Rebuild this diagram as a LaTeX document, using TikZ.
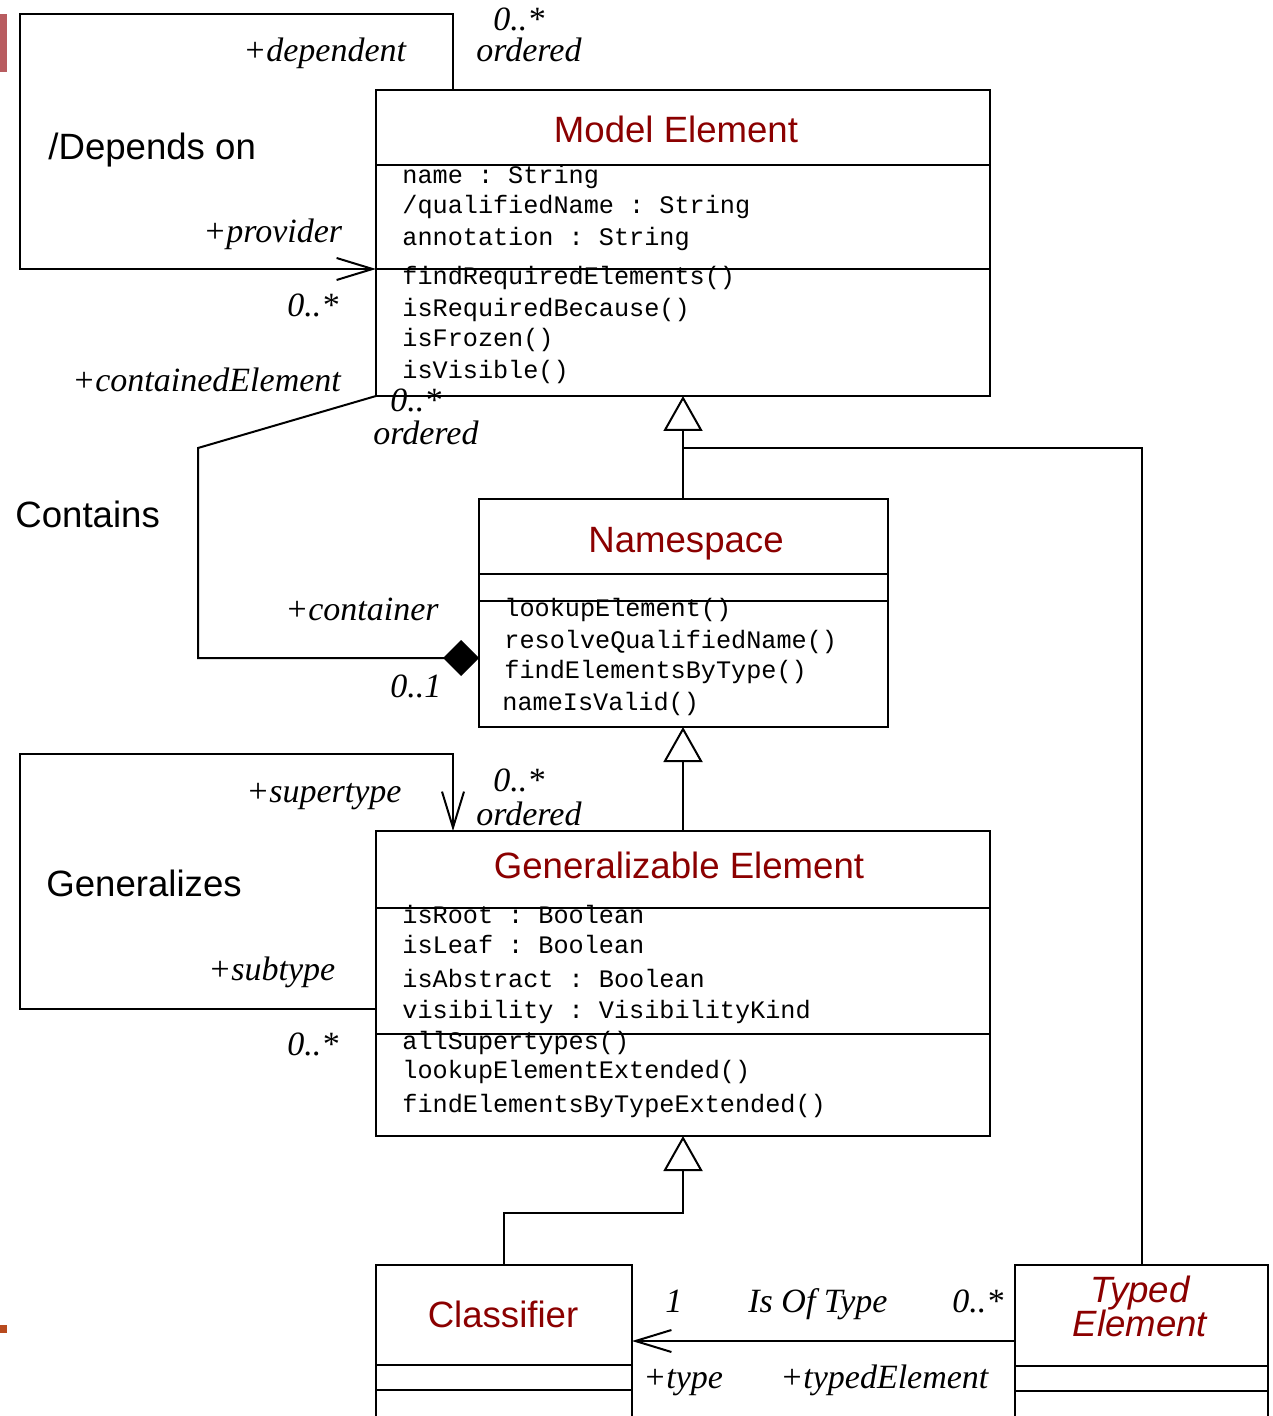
\documentclass[tikz,border=0pt]{standalone}
\usepackage{fontspec}
\setmainfont{Liberation Serif}
\setsansfont{Liberation Sans}
\setmonofont{Liberation Mono}
\usetikzlibrary{arrows.meta}

\definecolor{titlered}{RGB}{139,0,0}
\definecolor{barred}{RGB}{184,92,96}
\definecolor{barorange}{RGB}{184,74,30}

\tikzset{
  box/.style={draw, line width=1pt, anchor=north west, inner sep=0pt, outer sep=0pt},
  title/.style={font=\sffamily\fontsize{18.3}{18}\selectfont, text=titlered, inner sep=0pt, anchor=base},
  member/.style={font=\ttfamily\fontsize{12.6}{14}\selectfont, inner sep=0pt, anchor=base west},
  role/.style={font=\rmfamily\itshape\fontsize{17}{18}\selectfont, inner sep=0pt, anchor=base west},
  assocname/.style={font=\sffamily\fontsize{18.3}{18}\selectfont, inner sep=0pt, anchor=base west},
  link/.style={line width=1pt},
  navig/.style={link, -{Straight Barb[length=18pt,width=11pt,line width=1pt]}},
  gen/.style={link, -{Triangle[fill=white,length=17.5pt,width=19.5pt,line width=1pt]}},
  compo/.style={link, -{Diamond[fill=black,length=18pt,width=18pt]}},
  divider/.style={line width=1pt},
}

\begin{document}
\begin{tikzpicture}[x=0.5pt,y=-0.5pt]
\useasboundingbox (0,0) rectangle (1272,1416);
\fill[white] (0,0) rectangle (1272,1416);
\clip (0,0) rectangle (1272,1416);

% side marks
\fill[barred] (0,14) rectangle (7,72);
\fill[barorange] (0,1325) rectangle (7,1333);

% ---------- classes ----------
\node[box, minimum width=307pt, minimum height=153pt] (me) at (376,90) {};
\draw[divider] (376,165) -- (990,165);
\draw[divider] (376,269) -- (990,269);
\node[title] (me-t) at (676,143) {Model Element};
\node[member] (me-a1) at (402,184) {name : String};
\node[member] (me-a2) at (402,214) {/qualifiedName : String};
\node[member] (me-a3) at (402,246) {annotation : String};
\node[member] (me-o1) at (402,285) {findRequiredElements()};
\node[member] (me-o2) at (402,317) {isRequiredBecause()};
\node[member] (me-o3) at (402,347) {isFrozen()};
\node[member] (me-o4) at (402,379) {isVisible()};

\node[box, minimum width=204.5pt, minimum height=114pt] (ns) at (479,499) {};
\draw[divider] (479,574) -- (888,574);
\draw[divider] (479,601) -- (888,601);
\node[title] (ns-t) at (686,552) {Namespace};
\node[member] (ns-o1) at (504,616) {lookupElement()};
\node[member] (ns-o2) at (504,648) {resolveQualifiedName()};
\node[member] (ns-o3) at (504,678) {findElementsByType()};
\node[member] (ns-o4) at (502,710) {nameIsValid()};

\node[box, minimum width=307pt, minimum height=152.5pt] (ge) at (376,831) {};
\draw[divider] (376,908) -- (990,908);
\draw[divider] (376,1034) -- (990,1034);
\node[title] (ge-t) at (679,878) {Generalizable Element};
\node[member] (ge-a1) at (402,923) {isRoot : Boolean};
\node[member] (ge-a2) at (402,953) {isLeaf : Boolean};
\node[member] (ge-a3) at (402,987) {isAbstract : Boolean};
\node[member] (ge-a4) at (402,1018) {visibility : VisibilityKind};
\node[member] (ge-o1) at (402,1049) {allSupertypes()};
\node[member] (ge-o2) at (402,1078) {lookupElementExtended()};
\node[member] (ge-o3) at (402,1112) {findElementsByTypeExtended()};

\node[box, minimum width=128pt, minimum height=92.5pt] (cl) at (376,1265) {};
\draw[divider] (376,1365) -- (632,1365);
\draw[divider] (376,1390) -- (632,1390);
\node[title] (cl-t) at (503,1327) {Classifier};

\node[box, minimum width=126.5pt, minimum height=92.5pt] (te) at (1015,1265) {};
\draw[divider] (1015,1366) -- (1268,1366);
\draw[divider] (1015,1391) -- (1268,1391);
\node[title, font=\sffamily\itshape\fontsize{18.3}{18}\selectfont] (te-t1) at (1140,1302) {Typed};
\node[title, font=\sffamily\itshape\fontsize{18.3}{18}\selectfont] (te-t2) at (1140,1336) {Element};

% ---------- bend points ----------
\coordinate (d1) at (453,14);
\coordinate (d2) at (20,14);
\coordinate (d3) at (20,269);
\coordinate (c1) at (198,448);
\coordinate (c2) at (198,658);
\coordinate (g1) at (20,1009);
\coordinate (g2) at (20,754);
\coordinate (g3) at (453,754);
\coordinate (j1) at (683,448);
\coordinate (k1) at (683,1213);
\coordinate (t1) at (800,1341);

% ---------- associations ----------
\draw[navig] (me.north -| d1) -- (d1) -- (d2) -- (d3) -- (d3 -| me.west);
\draw[compo] (me.south west) -- (c1) -- (c2) -- (c2 -| ns.west);
\draw[navig] (g1 -| ge.west) -- (g1) -- (g2) -- (g3) -- (g3 |- ge.north);
\draw[navig] (te.west |- t1) -- (cl.east |- t1);

% ---------- generalizations ----------
\draw[gen] (ns.north -| j1) -- (j1 |- me.south);
\draw[link] (te.north) |- (j1);
\draw[gen] (ge.north -| j1) -- (j1 |- ns.south);
\draw[gen] (cl.north) |- (k1) -- (k1 |- ge.south);

% ---------- association names ----------
\node[assocname] (n-dep) at (48,160) {/Depends on};
\node[assocname] (n-con) at (15,527) {Contains};
\node[assocname] (n-gen) at (46,896) {Generalizes};

% ---------- role names and multiplicities ----------
\node[role] (r1) at (243,62) {+dependent};
\node[role] (m1) at (493,31) {0..*};
\node[role] (o1) at (476,62) {ordered};
\node[role] (r2) at (203,243) {+provider};
\node[role] (m2) at (287,317) {0..*};
\node[role] (r3) at (72,392) {+containedElement};
\node[role] (m3) at (390,412) {0..*};
\node[role] (o3) at (373,445) {ordered};
\node[role] (r4) at (285,620) {+container};
\node[role] (m4) at (390,697) {0..1};
\node[role] (r5) at (246,802) {+supertype};
\node[role] (m5) at (493,791) {0..*};
\node[role] (o5) at (476,825) {ordered};
\node[role] (r6) at (208,980) {+subtype};
\node[role] (m6) at (287,1055) {0..*};
\node[role] (m7) at (665,1312) {1};
\node[role] (n-iot) at (748,1312) {Is Of Type};
\node[role] (m8) at (952,1312) {0..*};
\node[role] (r7) at (643,1388) {+type};
\node[role] (r8) at (780,1388) {+typedElement};
\end{tikzpicture}
\end{document}
